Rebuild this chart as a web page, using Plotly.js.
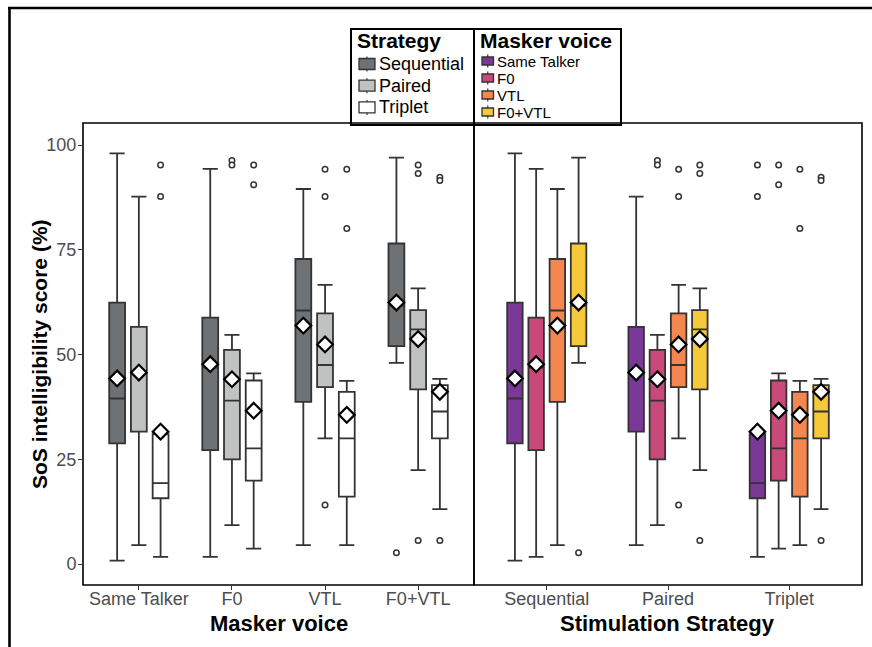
<!DOCTYPE html>
<html>
<head>
<meta charset="utf-8">
<script src="https://cdn.plot.ly/plotly-3.0.1.min.js"></script>
<style>html,body{margin:0;padding:0;background:#fff;}#chart{width:872px;height:647px;}</style>
</head>
<body>
<div id="chart"></div>
<script>
// ---------- data ----------
const maskers = ['Same Talker', 'F0', 'VTL', 'F0+VTL'];
const strategies = ['Sequential', 'Paired', 'Triplet'];

// per strategy, values in masker order
const lowerWhisker = {
  Sequential: [0.8, 1.7, 4.5, 48.0],
  Paired:     [4.5, 9.3, 30.0, 22.4],
  Triplet:    [1.7, 3.7, 4.5, 13.1]
};
const q1 = {
  Sequential: [28.8, 27.2, 38.7, 52.0],
  Paired:     [31.6, 25.0, 42.2, 41.7],
  Triplet:    [15.7, 19.9, 16.1, 30.0]
};
const medians = {
  Sequential: [39.5, 46.9, 60.5, 61.6],
  Paired:     [45.7, 39.0, 47.5, 56.0],
  Triplet:    [19.3, 27.6, 30.0, 36.4]
};
const q3 = {
  Sequential: [62.4, 58.8, 72.8, 76.5],
  Paired:     [56.6, 51.1, 59.8, 60.6],
  Triplet:    [31.0, 43.8, 41.1, 42.7]
};
const upperWhisker = {
  Sequential: [98.0, 94.3, 89.5, 97.0],
  Paired:     [87.7, 54.7, 66.6, 65.8],
  Triplet:    [31.0, 45.5, 43.7, 44.2]
};
const means = {
  Sequential: [44.3, 47.7, 56.9, 62.4],
  Paired:     [45.7, 44.1, 52.4, 53.7],
  Triplet:    [31.6, 36.6, 35.6, 41.1]
};
const outliers = {
  Sequential: [[], [], [], [2.7]],
  Paired:     [[], [96.3, 95.2], [94.2, 87.7, 14.1], [95.2, 93.2, 5.6]],
  Triplet:    [[95.2, 87.7], [95.2, 90.5], [94.2, 80.1], [92.3, 91.5, 5.6]]
};
const yTicks = [0, 25, 50, 75, 100];
const xTitleLeft = 'Masker voice';
const xTitleRight = 'Stimulation Strategy';
const yTitle = 'SoS intelligibility score (%)';

// ---------- styles ----------
const strategyFill = {Sequential: '#6e7275', Paired: '#c0c2c2', Triplet: '#ffffff'};
const maskerFill = {'Same Talker': '#7a3996', 'F0': '#c8497a', 'VTL': '#f4874f', 'F0+VTL': '#f6c93b'};
const FONT = '"Liberation Sans", Arial, Helvetica, sans-serif';
const lineCol = '#333333';

const W = 872, H = 647;
const M = {l: 83, r: 10, t: 123, b: 62};
const PW = W - M.l - M.r, PH = H - M.t - M.b;
const split = (474 - M.l) / PW;
const px = x => (x - M.l) / PW;
const py = y => (M.t + PH - y) / PH;

const traces = [];

function addGroup(groupName, fill, cats, getVals, xa) {
  const v = getVals;
  traces.push({
    type: 'box', name: groupName, x: cats,
    q1: v(q1), median: v(medians), q3: v(q3),
    lowerfence: v(lowerWhisker), upperfence: v(upperWhisker),
    fillcolor: fill, line: {color: lineCol, width: 1.8},
    whiskerwidth: 0.95, boxpoints: false,
    xaxis: xa, yaxis: 'y', offsetgroup: groupName, alignmentgroup: xa,
    showlegend: false, hoverinfo: 'skip'
  });
  // mean diamonds + outliers in one scatter trace, grouped like the boxes
  const xs = [], ys = [], sym = [], size = [], lw = [], lc = [];
  const mv = v(means);
  cats.forEach((c, i) => { xs.push(c); ys.push(mv[i]); sym.push('diamond'); size.push(12); lw.push(2.2); lc.push('#000'); });
  const ov = v(outliers);
  cats.forEach((c, i) => ov[i].forEach(o => { xs.push(c); ys.push(o); sym.push('circle'); size.push(5.5); lw.push(1.5); lc.push(lineCol); }));
  traces.push({
    type: 'scatter', mode: 'markers', name: groupName, x: xs, y: ys,
    orientation: 'v', offsetgroup: groupName, alignmentgroup: xa,
    marker: {symbol: sym, size: size, opacity: 1, color: '#ffffff', line: {color: lc, width: lw}},
    xaxis: xa, yaxis: 'y', showlegend: false, hoverinfo: 'skip', cliponaxis: false
  });
}

// left panel: masker on x, strategy as group
strategies.forEach(s => addGroup(s, strategyFill[s], maskers, d => d[s], 'x'));
// right panel: strategy on x, masker as group
maskers.forEach((m, mi) => addGroup(m, maskerFill[m], strategies,
  d => strategies.map(s => d[s][mi]), 'x2'));

// ---------- custom legends (ggplot-style) ----------
const shapes = [], annotations = [];
function drawLegend(cfg) {
  shapes.push({type: 'rect', xref: 'paper', yref: 'paper',
    x0: px(cfg.left), x1: px(cfg.right), y0: py(cfg.bottom), y1: py(cfg.top),
    line: {color: '#000', width: 2}, fillcolor: '#ffffff', layer: 'above'});
  annotations.push({xref: 'paper', yref: 'paper', x: px(cfg.titleX), y: py(cfg.titleY),
    xanchor: 'left', yanchor: 'middle', showarrow: false, text: cfg.title,
    font: {family: FONT, size: 21, color: '#000', weight: 'bold'}});
  cfg.items.forEach((name, i) => {
    const cy = cfg.firstY + i * cfg.step;
    const gx0 = cfg.glyphX, gx1 = cfg.glyphX + cfg.glyphW, gc = (gx0 + gx1) / 2;
    shapes.push({type: 'line', xref: 'paper', yref: 'paper', layer: 'above',
      x0: px(gc), x1: px(gc), y0: py(cy - cfg.whisker), y1: py(cy + cfg.whisker),
      line: {color: lineCol, width: 1.2}});
    shapes.push({type: 'rect', xref: 'paper', yref: 'paper', layer: 'above',
      x0: px(gx0), x1: px(gx1), y0: py(cy + cfg.glyphH / 2), y1: py(cy - cfg.glyphH / 2),
      fillcolor: cfg.fills[name], line: {color: lineCol, width: 1.3}});
    annotations.push({xref: 'paper', yref: 'paper', x: px(cfg.textX), y: py(cy),
      xanchor: 'left', yanchor: 'middle', showarrow: false, text: name,
      font: {family: FONT, size: cfg.fontSize, color: '#000'}});
  });
}
drawLegend({title: 'Strategy', items: strategies, fills: strategyFill, fontSize: 18,
  left: 351, right: 474, top: 29, bottom: 125, titleX: 355, titleY: 41,
  firstY: 64, step: 21.7, glyphX: 359, glyphW: 16, glyphH: 11, whisker: 7.5, textX: 377});
drawLegend({title: 'Masker voice', items: maskers, fills: maskerFill, fontSize: 15,
  left: 474, right: 621, top: 29, bottom: 125, titleX: 478, titleY: 40,
  firstY: 61, step: 17, glyphX: 482, glyphW: 11.5, glyphH: 8, whisker: 6.5, textX: 495});

// axis titles
const titleFont = {family: FONT, size: 22, color: '#000', weight: 'bold'};
annotations.push({xref: 'paper', yref: 'paper', x: split / 2, y: py(623), xanchor: 'center', yanchor: 'middle',
  showarrow: false, text: xTitleLeft, font: titleFont});
annotations.push({xref: 'paper', yref: 'paper', x: (split + 1) / 2, y: py(623), xanchor: 'center', yanchor: 'middle',
  showarrow: false, text: xTitleRight, font: titleFont});
annotations.push({xref: 'paper', yref: 'paper', x: px(39), y: 0.5, xanchor: 'center', yanchor: 'middle',
  showarrow: false, textangle: -90, text: yTitle, font: Object.assign({}, titleFont, {size: 21})});

// panel frames
shapes.push({type: 'rect', xref: 'paper', yref: 'paper', x0: 0, x1: split, y0: 0, y1: 1,
  line: {color: '#000', width: 1.6}, layer: 'above'});
shapes.push({type: 'rect', xref: 'paper', yref: 'paper', x0: split, x1: 1, y0: 0, y1: 1,
  line: {color: '#000', width: 1.6}, layer: 'above'});
// outer figure border (top and left edges)
shapes.push({type: 'line', xref: 'paper', yref: 'paper', x0: px(8), x1: px(872), y0: py(8), y1: py(8),
  line: {color: '#000', width: 2.4}});
shapes.push({type: 'line', xref: 'paper', yref: 'paper', x0: px(9.5), x1: px(9.5), y0: py(8), y1: py(647),
  line: {color: '#000', width: 2.6}});

const tickFont = {family: FONT, size: 18, color: '#4d4d4d'};
const xCommon = {
  type: 'category', showgrid: false, zeroline: false, showline: false,
  ticks: 'outside', ticklen: 4, tickwidth: 1, tickcolor: lineCol,
  tickfont: tickFont, ticklabelstandoff: -7, anchor: 'y', fixedrange: true
};

const layout = {
  width: W, height: H, margin: M,
  paper_bgcolor: '#ffffff', plot_bgcolor: '#ffffff',
  font: {family: FONT},
  showlegend: false,
  boxmode: 'group', boxgap: 0.3, boxgroupgap: 0.27,
  scattermode: 'group', scattergap: 0.3,
  xaxis: Object.assign({}, xCommon, {domain: [0, split], categoryorder: 'array', categoryarray: maskers,
    range: [-0.6, maskers.length - 0.4]}),
  xaxis2: Object.assign({}, xCommon, {domain: [split, 1], categoryorder: 'array', categoryarray: strategies,
    range: [-0.6, strategies.length - 0.4]}),
  yaxis: {range: [-5.0, 105.25], tickvals: yTicks, ticktext: yTicks.map(String),
    showgrid: false, zeroline: false, showline: false,
    ticks: 'outside', ticklen: 4, tickwidth: 1, tickcolor: lineCol, tickfont: tickFont,
    ticklabelstandoff: -2, fixedrange: true},
  shapes: shapes, annotations: annotations
};

Plotly.newPlot('chart', traces, layout, {displayModeBar: false, staticPlot: true});
</script>
</body>
</html>
